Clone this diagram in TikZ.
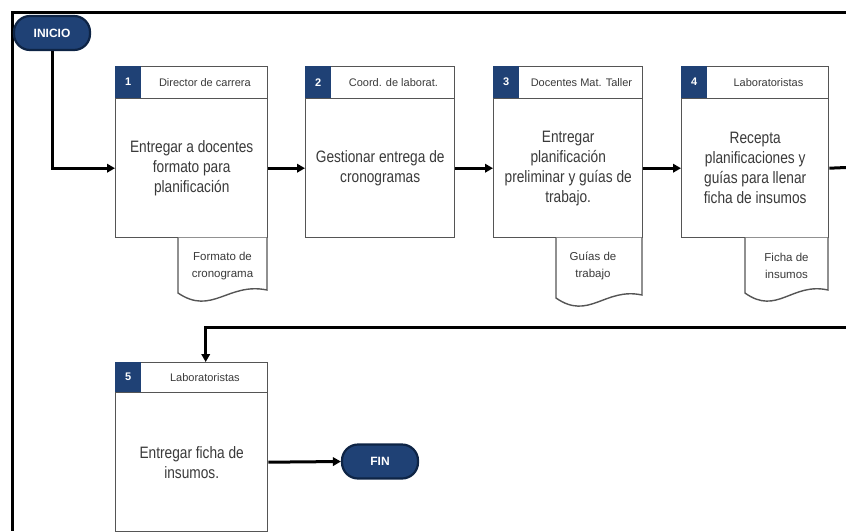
\documentclass[tikz,border=0pt]{standalone}
\usepackage{fontspec}
\setmainfont{Liberation Sans}
\newfontfamily\bodyfont{Liberation Sans}[FakeStretch=0.83]
\usetikzlibrary{arrows.meta,calc}
\definecolor{navy}{HTML}{1F4175}
\definecolor{navydark}{HTML}{0E2445}
\definecolor{boxline}{HTML}{555555}
\definecolor{txt}{HTML}{3A3A3A}
\tikzset{
  flow/.style={line width=3pt, black, -{Triangle[length=8pt,width=8.5pt]}},
  flowline/.style={line width=3pt, black},
  terminal/.style={rounded corners=16pt, fill=navy, draw=navydark, line width=2.2pt,
    minimum width=76pt, minimum height=34pt, text=white, font=\bfseries\fontsize{12}{14}\selectfont},
  hdr/.style={draw=boxline, fill=white, line width=1.4pt, anchor=north west,
    minimum width=152pt, minimum height=32pt, inner sep=0pt},
  num/.style={fill=navy, anchor=north west, minimum width=26pt, minimum height=32pt,
    inner sep=0pt, text=white, font=\bfseries\fontsize{11}{13}\selectfont},
  hlabel/.style={text=txt, font=\fontsize{11}{13}\selectfont, inner sep=0pt},
  body/.style={draw=boxline, fill=white, line width=1.4pt, anchor=north west,
    minimum width=152pt, minimum height=139pt, inner sep=0pt, align=center,
    text=txt, font=\bodyfont\fontsize{16.5}{20}\selectfont},
  docshape/.style={draw=boxline, fill=white, line width=1.4pt},
  doclabel/.style={text=txt, align=center, font=\fontsize{11.5}{17}\selectfont, inner sep=0pt},
  frameline/.style={line width=3pt, black}
}
\begin{document}
\begin{tikzpicture}[x=1pt,y=-1pt]
\useasboundingbox (0,0) rectangle (846,531);

% outer frame
\coordinate (ftr) at (846,12);
\coordinate (ftl) at (12,12);
\coordinate (fbl) at (12,531);
\draw[frameline] (ftr) -- (ftl) -- (fbl);

% start terminal
\node[terminal] (ini) at (52,33) {INICIO};

% step 1
\node[body] (b1) at (115,98) {Entregar a docentes\\formato para\\planificación};
\node[hdr] (h1) at (115,66) {};
\node[num] (n1) at (h1.north west) {1};
\node[hlabel] (l1) at ($(n1.east)!0.5!(h1.east)$) {Director de carrera};

% step 2
\node[body, minimum width=149pt] (b2) at (305,98) {Gestionar entrega de\\cronogramas};
\node[hdr, minimum width=149pt] (h2) at (305,66) {};
\node[num] (n2) at (h2.north west) {2};
\node[hlabel] (l2) at ($(n2.east)!0.5!(h2.east)$) {Coord. de laborat.};

% step 3
\node[body, minimum width=149pt] (b3) at (493,98) {Entregar\\planificación\\preliminar y guías de\\trabajo.};
\node[hdr, minimum width=149pt] (h3) at (493,66) {};
\node[num] (n3) at (h3.north west) {3};
\node[hlabel] (l3) at ($(n3.east)!0.5!(h3.east)$) {Docentes Mat. Taller};

% step 4
\node[body, minimum width=147pt] (b4) at (681,98) {Recepta\\planificaciones y\\guías para llenar\\ficha de insumos};
\node[hdr, minimum width=147pt] (h4) at (681,66) {};
\node[num] (n4) at (h4.north west) {4};
\node[hlabel] (l4) at ($(n4.east)!0.5!(h4.east)$) {Laboratoristas};

% step 5
\node[body] (b5) at (115,392) {Entregar ficha de\\insumos.};
\node[hdr, minimum height=30pt] (h5) at (115,362) {};
\node[num, minimum height=30pt] (n5) at (h5.north west) {5};
\node[hlabel] (l5) at ($(n5.east)!0.5!(h5.east)$) {Laboratoristas};

% end terminal
\node[terminal] (fin) at (380,461.5) {FIN};

% documents produced by the steps
\draw[docshape] (178,237.6) -- (178,293) .. controls (212,316) and (228,282) .. (267,290) -- (267,237.6);
\node[doclabel] (d1) at (222.5,266) {Formato de\\cronograma};

\draw[docshape] (556,237.6) -- (556,298) .. controls (589,321) and (605,287) .. (642,295) -- (642,237.6);
\node[doclabel] (d3) at (593,266) {Guías de\\trabajo};

\draw[docshape] (745,237.6) -- (745,293) .. controls (777,316) and (792,282) .. (828,290) -- (828,237.6);
\node[doclabel] (d4) at (786.5,266) {Ficha de\\insumos};

% flow connectors
\coordinate (e1) at (846,167.5);
\coordinate (e2) at (846,327);
\draw[flow] (ini.south) |- (b1.west);
\draw[flow] (b1.east) -- (b2.west);
\draw[flow] (b2.east) -- (b3.west);
\draw[flow] (b3.east) -- (b4.west);
\draw[flowline] (b4.east) -- (e1);
\draw[flow] (e2) -| ([xshift=14pt]h5.north);
\draw[flow] (b5.east) -- (fin.west);
\end{tikzpicture}
\end{document}
